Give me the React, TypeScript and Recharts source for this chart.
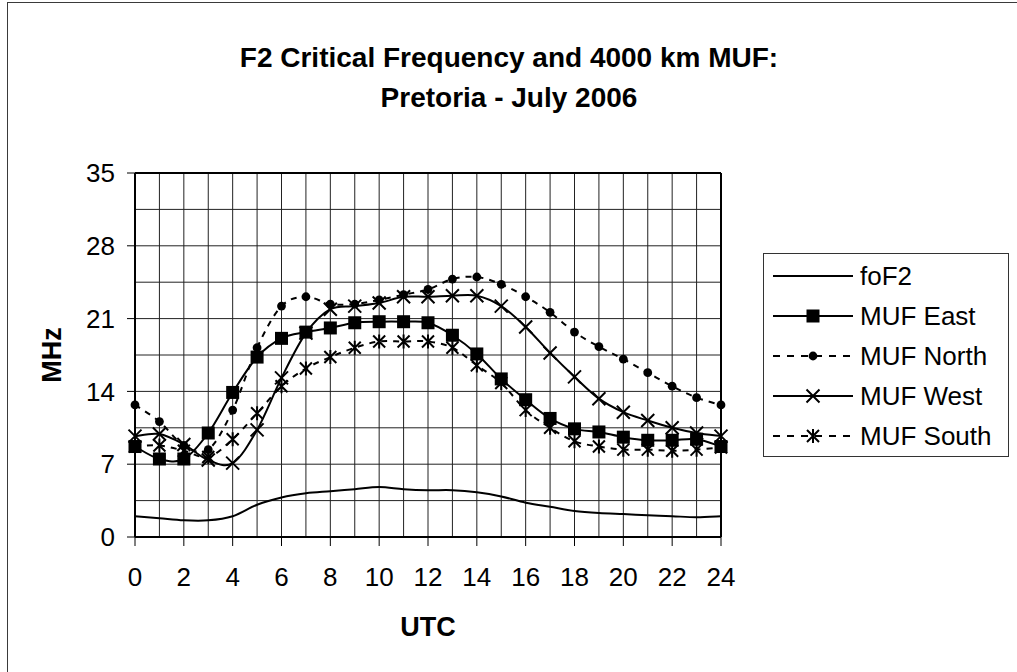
import React from 'react';
import { LineChart, Line, XAxis, YAxis, ReferenceLine, Legend, Label } from 'recharts';

// ---------- data ----------
const hours = [0, 1, 2, 3, 4, 5, 6, 7, 8, 9, 10, 11, 12, 13, 14, 15, 16, 17, 18, 19, 20, 21, 22, 23, 24];
const foF2 = [2.0, 1.8, 1.6, 1.6, 2.0, 3.1, 3.8, 4.2, 4.4, 4.6, 4.8, 4.6, 4.5, 4.5, 4.3, 3.9, 3.3, 2.9, 2.5, 2.3, 2.2, 2.1, 2.0, 1.9, 2.0];
const mufEast = [8.7, 7.5, 7.5, 10.0, 13.9, 17.3, 19.1, 19.7, 20.1, 20.6, 20.7, 20.7, 20.6, 19.4, 17.6, 15.2, 13.2, 11.4, 10.4, 10.1, 9.6, 9.3, 9.3, 9.4, 8.7];
const mufNorth = [12.7, 11.1, 8.8, 8.4, 12.2, 18.2, 22.2, 23.1, 22.4, 22.4, 22.8, 23.3, 23.8, 24.8, 25.0, 24.3, 23.1, 21.6, 19.7, 18.3, 17.1, 15.8, 14.5, 13.4, 12.7];
const mufWest = [9.7, 9.9, 8.9, 7.4, 7.1, 10.3, 15.3, 19.6, 21.9, 22.2, 22.5, 23.1, 23.1, 23.2, 23.2, 22.2, 20.2, 17.7, 15.4, 13.3, 12.0, 11.2, 10.5, 10.0, 9.7];
const mufSouth = [8.7, 8.8, 8.3, 7.7, 9.4, 11.9, 14.5, 16.2, 17.3, 18.2, 18.8, 18.8, 18.8, 18.2, 16.5, 14.8, 12.2, 10.5, 9.2, 8.7, 8.4, 8.4, 8.3, 8.4, 8.6];

const xTicks = [0, 2, 4, 6, 8, 10, 12, 14, 16, 18, 20, 22, 24];
const yTicks = [0, 7, 14, 21, 28, 35];
const xGrid = [1, 2, 3, 4, 5, 6, 7, 8, 9, 10, 11, 12, 13, 14, 15, 16, 17, 18, 19, 20, 21, 22, 23];
const yGrid = [3.5, 7, 10.5, 14, 17.5, 21, 24.5, 28, 31.5];

const titleLines = ['F2 Critical Frequency and 4000 km MUF:', 'Pretoria - July 2006'];
const xTitle = 'UTC';
const yTitle = 'MHz';

const data = hours.map((h, i) => ({
  utc: h,
  foF2: foF2[i],
  east: mufEast[i],
  north: mufNorth[i],
  west: mufWest[i],
  south: mufSouth[i],
}));

const FONT = '"Liberation Sans", Arial, Helvetica, sans-serif';

// Excel-like smoothing (Catmull-Rom through the points)
const excelSmooth: any = (context: any) => {
  let pts: [number, number][] = [];
  return {
    areaStart() {},
    areaEnd() {},
    lineStart() {
      pts = [];
    },
    lineEnd() {
      if (!pts.length) return;
      context.moveTo(pts[0][0], pts[0][1]);
      for (let i = 0; i < pts.length - 1; i++) {
        const p0 = pts[Math.max(i - 1, 0)];
        const p1 = pts[i];
        const p2 = pts[i + 1];
        const p3 = pts[Math.min(i + 2, pts.length - 1)];
        context.bezierCurveTo(
          p1[0] + (p2[0] - p0[0]) / 6,
          p1[1] + (p2[1] - p0[1]) / 6,
          p2[0] - (p3[0] - p1[0]) / 6,
          p2[1] - (p3[1] - p1[1]) / 6,
          p2[0],
          p2[1]
        );
      }
    },
    point(x: number, y: number) {
      pts.push([x, y]);
    },
  };
};

// ---------- markers ----------
const drawSquare = (cx: number, cy: number, key?: any) => (
  <rect key={key} x={cx - 6.5} y={cy - 6.5} width={13} height={13} fill="#000" />
);
const drawCircle = (cx: number, cy: number, key?: any) => (
  <circle key={key} cx={cx} cy={cy} r={4.4} fill="#000" />
);
const drawX = (cx: number, cy: number, key?: any) => (
  <path
    key={key}
    d={`M${cx - 6.5},${cy - 6.5}L${cx + 6.5},${cy + 6.5}M${cx - 6.5},${cy + 6.5}L${cx + 6.5},${cy - 6.5}`}
    stroke="#000"
    strokeWidth={2}
    fill="none"
  />
);
const drawStar = (cx: number, cy: number, key?: any) => (
  <path
    key={key}
    d={`M${cx - 6},${cy - 6}L${cx + 6},${cy + 6}M${cx - 6},${cy + 6}L${cx + 6},${cy - 6}M${cx},${cy - 7}L${cx},${cy + 7}`}
    stroke="#000"
    strokeWidth={2}
    fill="none"
  />
);

const mk = (fn: any) => (props: any) => {
  const { cx, cy, index } = props;
  if (cx == null || cy == null) return <g key={`e${index}`} />;
  return fn(cx, cy, `m${index}`);
};

const series = [
  { key: 'foF2', name: 'foF2', dash: undefined as string | undefined, marker: null as any },
  { key: 'east', name: 'MUF East', dash: undefined, marker: drawSquare },
  { key: 'north', name: 'MUF North', dash: '6 6', marker: drawCircle },
  { key: 'west', name: 'MUF West', dash: undefined, marker: drawX },
  { key: 'south', name: 'MUF South', dash: '6 6', marker: drawStar },
];

const LegendBox = () => (
  <div
    style={{
      width: 246,
      height: 204,
      border: '1px solid #333',
      boxSizing: 'border-box',
      background: '#fff',
    }}
  >
    <svg width={244} height={202}>
      {series.map((s, i) => {
        const y = 22 + i * 40;
        return (
          <g key={s.key}>
            <line x1={9} x2={89} y1={y} y2={y} stroke="#000" strokeWidth={2} strokeDasharray={s.dash ? '7 7' : undefined} />
            {s.marker ? s.marker(49, y) : null}
            <text x={96} y={y + 9} fontFamily={FONT} fontSize={26} fill="#000">
              {s.name}
            </text>
          </g>
        );
      })}
    </svg>
  </div>
);

export default function App() {
  return (
    <div style={{ position: 'fixed', left: 0, top: 0, width: 1017, height: 672, background: '#fff', overflow: 'hidden' }}>
      <div
        style={{
          position: 'absolute',
          left: 7,
          top: 2,
          width: 1040,
          height: 700,
          border: '1.5px solid #3a3a3a',
          boxSizing: 'border-box',
        }}
      />
      <svg style={{ position: 'absolute', left: 0, top: 0 }} width={1017} height={672}>
        {titleLines.map((t, i) => (
          <text
            key={i}
            x={509}
            y={67 + i * 40}
            textAnchor="middle"
            fontFamily={FONT}
            fontWeight="bold"
            fontSize={28}
            fill="#000"
          >
            {t}
          </text>
        ))}
      </svg>
      <div style={{ position: 'absolute', left: 0, top: 0 }}>
        <LineChart width={1017} height={672} data={data} margin={{ top: 173, right: 296, bottom: 75, left: 60 }}>
          {xGrid.map((v) => (
            <ReferenceLine key={`vx${v}`} x={v} stroke="#222" strokeWidth={1} />
          ))}
          {yGrid.map((v) => (
            <ReferenceLine key={`hy${v}`} y={v} stroke="#222" strokeWidth={1} />
          ))}
          <ReferenceLine y={35} stroke="#000" strokeWidth={2} />
          <ReferenceLine x={24} stroke="#000" strokeWidth={2} />
          <XAxis
            dataKey="utc"
            type="number"
            domain={[0, 24]}
            ticks={xTicks}
            interval={0}
            height={60}
            tickSize={9}
            tickMargin={22}
            axisLine={{ stroke: '#000', strokeWidth: 2 }}
            tickLine={{ stroke: '#000', strokeWidth: 1 }}
            tick={{ fill: '#000', fontSize: 26, fontFamily: FONT }}
          >
            <Label
              content={(p: any) => {
                const vb = p.viewBox || {};
                return (
                  <text
                    x={vb.x + vb.width / 2}
                    y={vb.y + 99}
                    textAnchor="middle"
                    fontFamily={FONT}
                    fontWeight="bold"
                    fontSize={27}
                    fill="#000"
                  >
                    {xTitle}
                  </text>
                );
              }}
            />
          </XAxis>
          <YAxis
            type="number"
            domain={[0, 35]}
            ticks={yTicks}
            interval={0}
            width={75}
            tickSize={8}
            tickMargin={12}
            axisLine={{ stroke: '#000', strokeWidth: 2 }}
            tickLine={{ stroke: '#000', strokeWidth: 1 }}
            tick={{ fill: '#000', fontSize: 26, fontFamily: FONT }}
          >
            <Label
              content={(p: any) => {
                const vb = p.viewBox || {};
                const cx = 52;
                const cy = vb.y + vb.height / 2;
                return (
                  <text
                    x={cx}
                    y={cy}
                    transform={`rotate(-90 ${cx} ${cy})`}
                    textAnchor="middle"
                    dominantBaseline="central"
                    fontFamily={FONT}
                    fontWeight="bold"
                    fontSize={27}
                    fill="#000"
                  >
                    {yTitle}
                  </text>
                );
              }}
            />
          </YAxis>
          {series.map((s) => (
            <Line
              key={s.key}
              dataKey={s.key}
              name={s.name}
              type={excelSmooth}
              stroke="#000"
              strokeWidth={2}
              strokeDasharray={s.dash}
              dot={s.marker ? mk(s.marker) : false}
              activeDot={false}
              isAnimationActive={false}
            />
          ))}
          <Legend
            layout="vertical"
            align="center"
            verticalAlign="middle"
            content={() => <LegendBox />}
            wrapperStyle={{ position: 'absolute', left: 763, top: 253, width: 246, height: 204 }}
          />
        </LineChart>
      </div>
    </div>
  );
}
